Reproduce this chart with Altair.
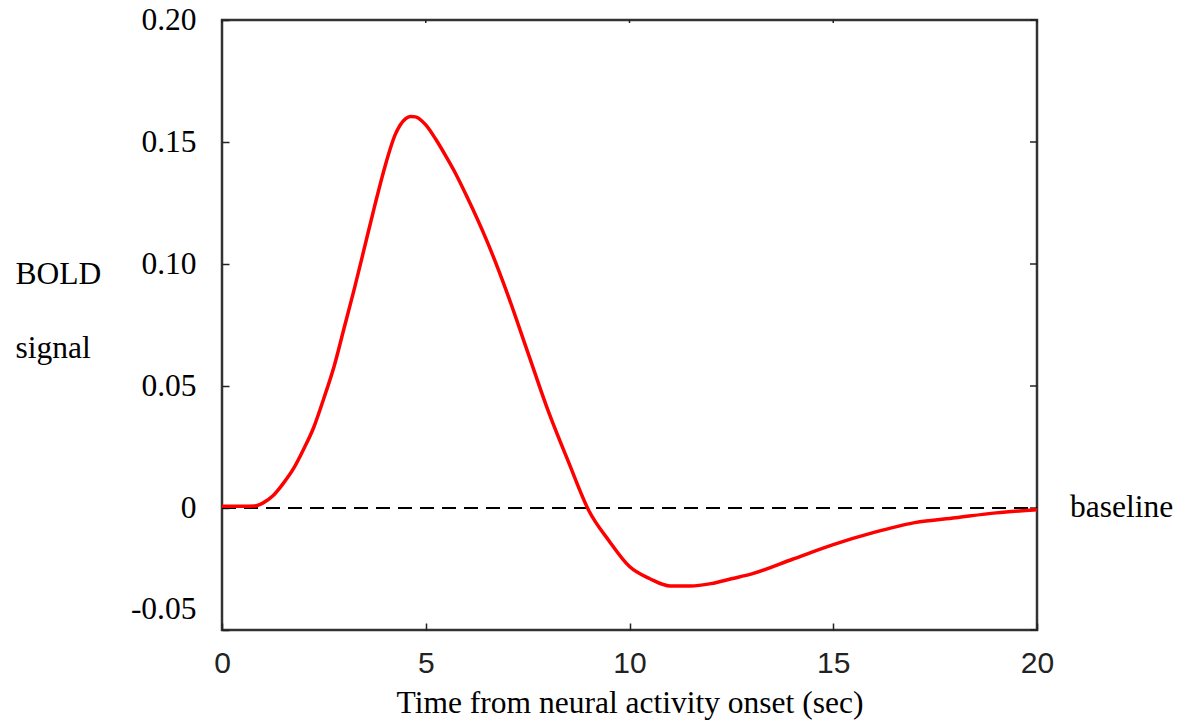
import altair as alt
import pandas as pd

# Data
time_sec = [0, 0.5, 0.8, 1.0, 1.25, 1.5, 1.75, 2.0, 2.25, 2.5, 2.75, 3.0, 3.25, 3.5,
            3.75, 4.0, 4.25, 4.5, 4.625, 4.75, 5.0, 5.25, 5.5, 5.75, 6.0, 6.5, 7.0,
            7.5, 8.0, 8.5, 9.0, 9.5, 10.0, 10.5, 11.0, 11.5, 12.0, 12.5, 13.0,
            14.0, 15.0, 16.0, 17.0, 18.0, 19.0, 20.0]
bold_signal = [0.0007, 0.0007, 0.0008, 0.002, 0.005, 0.010, 0.016, 0.024, 0.033,
               0.045, 0.058, 0.074, 0.090, 0.107, 0.124, 0.140, 0.153, 0.1595,
               0.1605, 0.1603, 0.157, 0.151, 0.144, 0.1365, 0.128, 0.1095, 0.088,
               0.064, 0.040, 0.019, -0.001, -0.0135, -0.024, -0.029, -0.032,
               -0.032, -0.031, -0.029, -0.027, -0.021, -0.015, -0.010, -0.006,
               -0.004, -0.002, -0.0007]
x_ticks = [0, 5, 10, 15, 20]
y_ticks = [-0.05, 0, 0.05, 0.10, 0.15, 0.20]
baseline_label = ["baseline"]

curve = pd.DataFrame({"t": time_sec, "v": bold_signal})
base_df = pd.DataFrame({"t": [x_ticks[0]], "t2": [x_ticks[-1]], "v": [0.0]})
lab_df = pd.DataFrame({"t": [x_ticks[-1]], "v": [0.0], "label": baseline_label})
xt_df = pd.DataFrame({"t": x_ticks})
yt_df = pd.DataFrame({"v": y_ticks})

SERIF = "Liberation Serif"
SANS = "Liberation Sans"
FS = 31.5

xscale = alt.Scale(domain=[0, 20], nice=False, zero=False)
yscale = alt.Scale(domain=[-0.05, 0.20], nice=False, zero=False)

x_axis = alt.Axis(
    values=x_ticks, orient="bottom", offset=-7, tickSize=7, tickColor="#222",
    tickWidth=1.5, domain=False, grid=False, labelFont=SANS, labelFontSize=30,
    labelColor="#222", labelPadding=18, labelFlush=False,
    title="Time from neural activity onset (sec)", titleFont=SERIF,
    titleFontSize=FS, titleFontWeight="normal", titleColor="#000",
    titleBaseline="alphabetic", titleY=89,
)
y_axis = alt.Axis(
    values=y_ticks, orient="left", offset=-7, tickSize=7, tickColor="#222",
    tickWidth=1.5, domain=False, grid=False, labelFont=SERIF, labelFontSize=FS,
    labelColor="#000", labelPadding=26,
    labelExpr="datum.value == 0 ? '0' : replace(format(datum.value, '.2f'), '\u2212', '-')",
    labelOffset={"condition": {"test": "datum.value < -0.01", "value": -21}, "value": 0},
    labelFlush=False,
    title=["BOLD", "signal"], titleFont=SERIF, titleFontSize=FS,
    titleFontWeight="normal", titleColor="#000", titleAngle=0,
    titleAlign="left", titleBaseline="alphabetic", titleX=-214, titleY=263,
    titleLineHeight=74,
)

axes_layer = alt.Chart(curve).mark_line(opacity=0).encode(
    x=alt.X("t:Q", scale=xscale, axis=x_axis),
    y=alt.Y("v:Q", scale=yscale, axis=y_axis),
)

# inward ticks on the right and top edges of the frame
right_ticks = alt.Chart(yt_df).mark_rule(color="#222", strokeWidth=1.5).encode(
    y="v:Q", x=alt.value(808), x2=alt.value(815)
)
top_ticks = alt.Chart(xt_df).mark_rule(color="#222", strokeWidth=1.5).encode(
    x="t:Q", y=alt.value(0), y2=alt.value(3)
)

baseline_rule = alt.Chart(base_df).mark_rule(
    color="#000", strokeWidth=2, strokeDash=[14, 8]
).encode(x="t:Q", x2="t2:Q", y="v:Q")

line = alt.Chart(curve).mark_line(
    color="#ff0000", strokeWidth=3.5, interpolate="monotone"
).encode(x="t:Q", y="v:Q")

label = alt.Chart(lab_df).mark_text(
    align="left", baseline="middle", dx=33, font=SERIF, fontSize=FS, color="#000"
).encode(x="t:Q", y="v:Q", text="label:N")

chart = alt.layer(
    axes_layer, right_ticks, top_ticks, baseline_rule, line, label
).properties(
    width=815, height=610,
    autosize=alt.AutoSizeParams(type="none"),
    padding={"left": 222, "top": 20, "right": 141, "bottom": 92},
).configure(
    background="white"
).configure_view(
    stroke="#333", strokeWidth=2.5
)

chart.save("out.html", embed_options={"renderer": "svg", "actions": False})
